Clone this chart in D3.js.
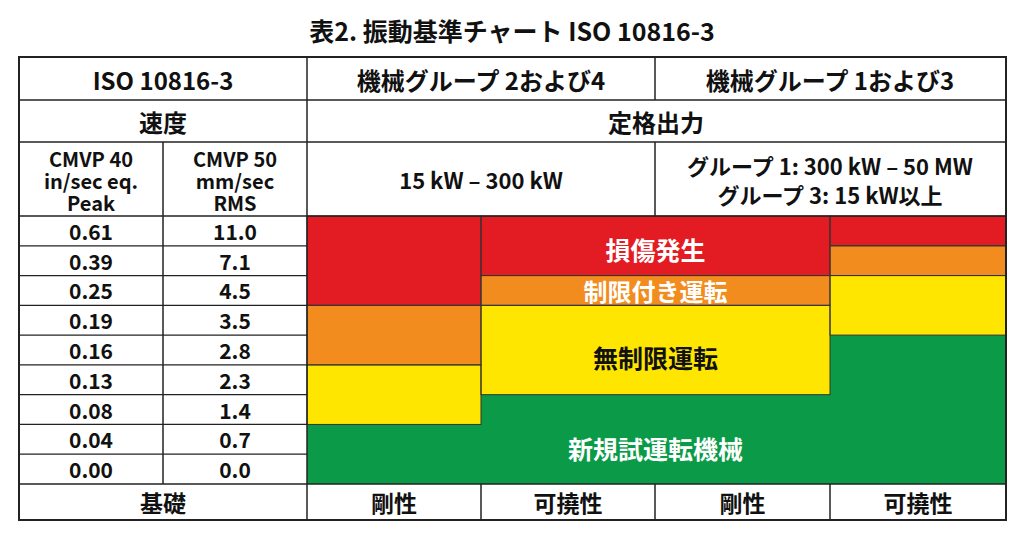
<!DOCTYPE html><html><head><meta charset="utf-8">
<script src="https://cdn.jsdelivr.net/npm/d3@7"></script>
<style>body{margin:0;background:#fff}text{font-family:"Noto Sans CJK JP","Noto Sans",sans-serif;font-weight:600;fill:#111}</style>
</head><body><svg id="c" width="1024" height="538"></svg><script>
const inPeak=["0.61","0.39","0.25","0.19","0.16","0.13","0.08","0.04","0.00"];
const mmRms=["11.0","7.1","4.5","3.5","2.8","2.3","1.4","0.7","0.0"];
const zoneNames=["損傷発生","制限付き運転","無制限運転","新規試運転機械"];
const zoneColors=["#e31b23","#f28c1e","#ffe600","#0a9a48"];
// zone boundaries (row index where each zone ends) per chart column
const colA=[3,5,7,9], colB=[2,3,6,9], colC=[1,2,4,9];
const footer=["基礎","剛性","可撓性","剛性","可撓性"];
const svg=d3.select("#c");
const xs=[19,163,307,481,655,830,1006];
const y=d3.scaleBand().domain(d3.range(9)).range([216,484]);
const rh=y.bandwidth();
function txt(x,yy,s,size,col,w){svg.append("text").attr("x",x).attr("y",yy).attr("text-anchor","middle").attr("dominant-baseline","central").attr("font-size",size).style("font-weight",w||600).style("fill",col||"#111").text(s);}
txt(512,30,"表2. 振動基準チャート ISO 10816-3",25,null,700);
const cols=[{x0:xs[2],x1:xs[3],b:colA},{x0:xs[3],x1:xs[5],b:colB},{x0:xs[5],x1:xs[6],b:colC}];
const yEdge=i=>i>=9?484:y(i);
cols.forEach(c=>{let s=0;c.b.forEach((e,k)=>{svg.append("rect").attr("x",c.x0).attr("y",yEdge(s)).attr("width",c.x1-c.x0).attr("height",yEdge(e)-yEdge(s)).attr("fill",zoneColors[k]);s=e;});});
cols.forEach(c=>{let s=0;c.b.slice(0,3).forEach((e,k)=>{svg.append("rect").attr("x",c.x0).attr("y",yEdge(s)).attr("width",c.x1-c.x0).attr("height",yEdge(e)-yEdge(s)).attr("fill","none").attr("stroke","#333").attr("stroke-width",1);s=e;});});
const B=cols[1];const mid=(B.x0+B.x1)/2;
txt(mid,(y(0)+y(2))/2+3,zoneNames[0],25,"#fff",700);
txt(mid,(y(2)+y(3))/2,zoneNames[1],24,"#fff",700);
txt(mid,(y(3)+y(6))/2+7,zoneNames[2],25,"#111",700);
txt(mid,(y(6)+484)/2+9,zoneNames[3],25,"#fff",700);
inPeak.forEach((v,i)=>{txt(91,y(i)+rh/2,v,21);txt(235,y(i)+rh/2,mmRms[i],21);});
const L=(x1,y1,x2,y2,w)=>svg.append("line").attr("x1",x1).attr("y1",y1).attr("x2",x2).attr("y2",y2).attr("stroke","#222").attr("stroke-width",w||1.5);
svg.append("rect").attr("x",19).attr("y",57).attr("width",987).attr("height",463).attr("fill","none").attr("stroke","#222").attr("stroke-width",2);
[100,142,216,484].forEach(v=>L(19,v,1006,v));
d3.range(1,9).forEach(i=>L(19,y(i),307,y(i),1.2));
L(163,142,163,484);L(307,57,307,520);L(655,57,655,100);L(655,142,655,216);
L(481,484,481,520);L(655,484,655,520);L(830,484,830,520);
txt(163,79,"ISO 10816-3",24);txt(481,79,"機械グループ 2および4",24);txt(830,79,"機械グループ 1および3",24);
txt(163,121,"速度",24);txt(656,121,"定格出力",24);
[["CMVP 40",158],["in/sec eq.",180],["Peak",202]].forEach(a=>txt(91,a[1],a[0],20));
[["CMVP 50",158],["mm/sec",180],["RMS",202]].forEach(a=>txt(235,a[1],a[0],20));
txt(481,179,"15 kW – 300 kW",22);
txt(830,165,"グループ 1: 300 kW – 50 MW",22);txt(830,194,"グループ 3: 15 kW以上",22);
const fx=[[19,307],[307,481],[481,655],[655,830],[830,1006]];
footer.forEach((f,i)=>txt((fx[i][0]+fx[i][1])/2,502,f,23));
</script></body></html>
